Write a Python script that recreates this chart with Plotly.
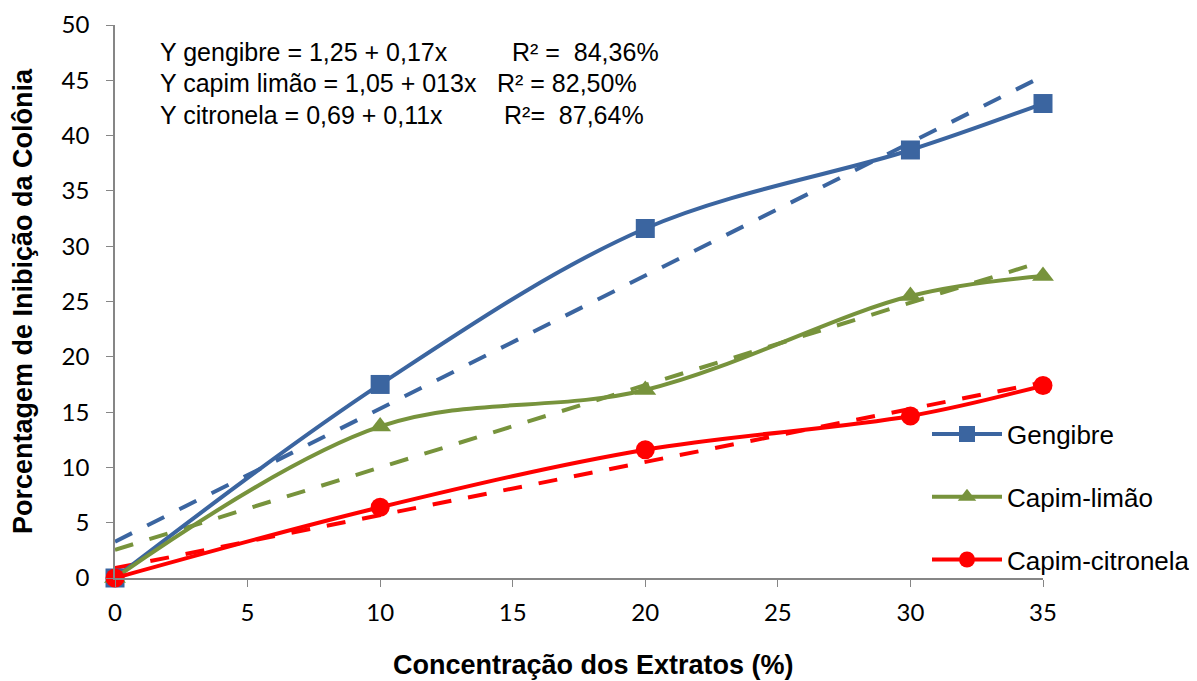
import numpy as np
import plotly.graph_objects as go

concentracao = [0, 10, 20, 30, 35]
gengibre = [0, 17.5, 31.6, 38.7, 42.9]
capim_limao = [0, 13.7, 17.0, 25.5, 27.3]
capim_citronela = [0, 6.4, 11.6, 14.65, 17.4]

series_names = ["Gengibre", "Capim-limão", "Capim-citronela"]
series_values = [gengibre, capim_limao, capim_citronela]
colors = ["#3B65A0", "#77933C", "#FF0000"]
symbols = ["square", "triangle-up", "circle"]

x_ticks = [0, 5, 10, 15, 20, 25, 30, 35]
y_ticks = [0, 5, 10, 15, 20, 25, 30, 35, 40, 45, 50]

x_title = "Concentração dos Extratos (%)"
y_title = "Porcentagem de Inibição da Colônia"

fig = go.Figure()

# linear trend lines (dashed), computed from the data
for vals, col in zip(series_values, colors):
    slope, intercept = np.polyfit(concentracao, vals, 1)
    xs = [concentracao[0], concentracao[-1]]
    ys = [intercept + slope * v for v in xs]
    fig.add_trace(go.Scatter(x=xs, y=ys, mode="lines", showlegend=False,
                             line=dict(color=col, width=4, dash="19px,17px"),
                             cliponaxis=False, hoverinfo="skip"))

for i, (name, vals, col, sym) in enumerate(zip(series_names, series_values, colors, symbols)):
    fig.add_trace(go.Scatter(x=concentracao, y=vals, name=name, mode="lines+markers",
                             line=dict(color=col, width=4, shape="spline", smoothing=1),
                             marker=dict(symbol=sym, size=19, color=col),
                             cliponaxis=False, legendgroup=str(i)))

# page has an 8px body margin: figure is drawn 8px right/down of the window origin
OFF = 8
W, H = 1197 - OFF, 681 - OFF
L, T, R, B = 115 - OFF, 25 - OFF, 154, 103
PW, PH = W - L - R, H - T - B


def px_x(px):
    return (px - OFF - L) / PW


def px_y(py):
    return 1 - (py - OFF - T) / PH


ann_font = dict(family="Arial, Liberation Sans", size=25, color="#000000")
eq_lines = ["Y gengibre = 1,25 + 0,17x", "Y capim limão = 1,05 + 013x", "Y citronela = 0,69 + 0,11x"]
r2_lines = ["R² =  84,36%", "R² = 82,50%", "R²=  87,64%"]
eq_y = [52, 83, 115]
r2_x = [510, 495, 502]
annotations = []
for t, yy in zip(eq_lines, eq_y):
    annotations.append(dict(text=t, xref="paper", yref="paper", x=px_x(158),
                            y=px_y(yy), xanchor="left", yanchor="middle",
                            showarrow=False, font=ann_font))
for t, xx, yy in zip(r2_lines, r2_x, eq_y):
    annotations.append(dict(text=t, xref="paper", yref="paper", x=px_x(xx),
                            y=px_y(yy), xanchor="left", yanchor="middle",
                            showarrow=False, font=ann_font))

title_font = dict(family="Arial, Liberation Sans", size=27, color="#000000")
annotations.append(dict(text="<b>" + x_title + "</b>", xref="paper", yref="paper",
                        x=px_x(593), y=px_y(665), xanchor="center", yanchor="middle",
                        showarrow=False, font=title_font))

tick_font = dict(family="Lato, Carlito, Arial", size=24, color="#000000")

fig.update_layout(
    width=W, height=H,
    margin=dict(l=L, r=R, t=T, b=B, autoexpand=False),
    paper_bgcolor="white", plot_bgcolor="white",
    annotations=annotations,
    legend=dict(x=px_x(927), xanchor="left", y=px_y(497), yanchor="middle",
                font=dict(family="Arial, Liberation Sans", size=26, color="#000000"),
                itemwidth=70, tracegroupgap=26, traceorder="grouped",
                bgcolor="rgba(0,0,0,0)"),
    xaxis=dict(range=[0, 35], tickvals=x_ticks, ticks="outside", ticklen=7,
               tickcolor="#868686", showline=True, linecolor="#868686", linewidth=1.5,
               showgrid=False, zeroline=False, tickfont=tick_font, ticklabelstandoff=5),
    yaxis=dict(range=[0, 50], tickvals=y_ticks, ticks="outside", ticklen=7,
               tickcolor="#868686", showline=True, linecolor="#868686", linewidth=1.5,
               showgrid=False, zeroline=False, tickfont=tick_font, ticklabelstandoff=12,
               title=dict(text="<b>" + y_title + "</b>", font=title_font, standoff=24)),
)

fig.write_html("out.html")
